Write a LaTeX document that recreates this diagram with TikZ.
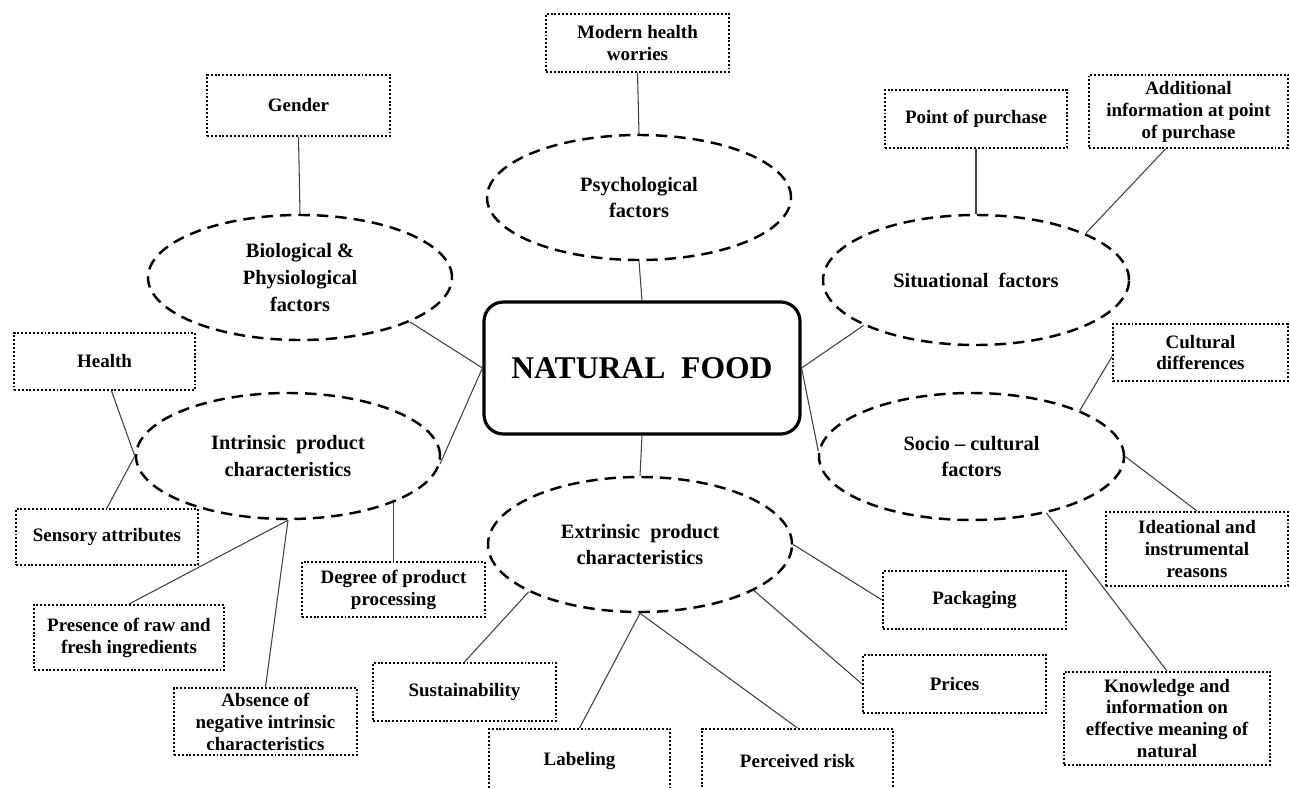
\documentclass[tikz,border=0pt]{standalone}
\usepackage{fontspec}
\setmainfont{Liberation Serif}
\usetikzlibrary{shapes.geometric,calc}
\begin{document}
\begin{tikzpicture}[x=0.02cm,y=-0.02cm,
  dbox/.style 2 args={draw, line width=1.1pt, dash pattern=on 1.1pt off 1.1pt,
    minimum width=#1*0.02cm, minimum height=#2*0.02cm, align=center, inner sep=1pt,
    font=\fontsize{10.8}{12.5}\selectfont\bfseries},
  oval/.style 2 args={draw, ellipse, line width=1.4pt, dash pattern=on 6.5pt off 4pt,
    minimum width=#1*0.02cm, minimum height=#2*0.02cm, align=center, inner sep=0pt,
    font=\fontsize{11.6}{15.3}\selectfont\bfseries},
  hub/.style={draw, line width=1.8pt, rounded corners=11pt, minimum width=316*0.02cm,
    minimum height=132*0.02cm, font=\fontsize{18}{20}\selectfont\bfseries},
  conn/.style={draw=black!75, line width=0.6pt}]
\useasboundingbox (0,0) rectangle (1290,787);
\clip (0,0) rectangle (1290,787);
\fill[white] (0,0) rectangle (1290,787);

% central
\node[hub] (nf) at (642,368) {NATURAL\ \ FOOD};

% ellipses
\node[oval={304}{125}] (psych) at (639,197.5) {Psychological\\factors};
\node[oval={304}{125}] (bio) at (300,277.5) {Biological \&\\Physiological\\factors};
\node[oval={306}{130}] (situ) at (976,280) {Situational\ \ factors};
\node[oval={304}{126}] (intr) at (288,456) {Intrinsic\ \ product\\characteristics};
\node[oval={305}{127}] (socio) at (971.5,456.5) {Socio -- cultural\\factors};
\node[oval={304}{135}] (extr) at (640,544.5) {Extrinsic\ \ product\\characteristics};

% boxes
\node[dbox={183}{58}] (modern) at (637.5,43) {Modern health\\worries};
\node[dbox={183}{61}] (gender) at (298.5,105.5) {Gender};
\node[dbox={182}{58}] (pop) at (976,119) {Point of purchase};
\node[dbox={199}{73}] (addl) at (1188.5,111.5) {Additional\\information at point\\of purchase};
\node[dbox={181}{57}] (health) at (104.5,361.5) {Health};
\node[dbox={175}{57}] (cult) at (1200.5,352.5) {Cultural\\differences};
\node[dbox={182}{56}] (sensory) at (107,537) {Sensory attributes};
\node[dbox={183}{55}] (degree) at (393.5,589.5) {Degree of product\\processing};
\node[dbox={182}{74}] (idea) at (1197,549) {Ideational and\\instrumental\\reasons};
\node[dbox={183}{58}] (pack) at (974.5,600) {Packaging};
\node[dbox={190}{65}] (presence) at (129,637.5) {Presence of raw and\\fresh ingredients};
\node[dbox={183}{67}] (absence) at (265.5,721.5) {Absence of\\negative intrinsic\\characteristics};
\node[dbox={183}{58}] (sustain) at (464.5,692) {Sustainability};
\node[dbox={183}{58}] (prices) at (954.5,684) {Prices};
\node[dbox={206}{93}] (know) at (1167,718.5) {Knowledge and\\information on\\effective meaning of\\natural};
\node[dbox={181}{64}] (label) at (579.5,761) {Labeling};
\node[dbox={191}{64}] (risk) at (797.5,761) {Perceived risk};

% connectors
\draw[conn] (modern.south) -- (psych.north);
\draw[conn] (psych.south) -- (nf.north);
\draw[conn] (gender.south) -- (bio.north);
\draw[conn] (bio.-22) -- (nf.west);
\draw[conn] (intr.-3) -- (nf.west);
\draw[conn] (situ.202) -- (nf.east);
\draw[conn] (socio.178) -- (nf.east);
\draw[conn] (nf.south) -- (extr.north);
\draw[conn] (pop.south) -- (situ.north);
\draw[conn] ($(addl.south)+(-23,0)$) -- (situ.23.5);
\draw[conn] ($(cult.west)+(0,4)$) -- (socio.23);
\draw[conn] (socio.east) -- (idea.north);
\draw[conn] (socio.-37.6) -- (know.north);
\draw[conn] (extr.east) -- (pack.west);
\draw[conn] (extr.-22) -- (prices.west);
\draw[conn] (extr.south) -- (label.north);
\draw[conn] (extr.south) -- (risk.north);
\draw[conn] (extr.203) -- (sustain.north);
\draw[conn] ($(health.south)+(7,0)$) -- (intr.west);
\draw[conn] (sensory.north) -- (intr.west);
\draw[conn] (intr.south) -- (presence.north);
\draw[conn] (intr.south) -- (absence.north);
\draw[conn] (degree.north) -- (degree.north |- intr.-22);
\end{tikzpicture}
\end{document}
